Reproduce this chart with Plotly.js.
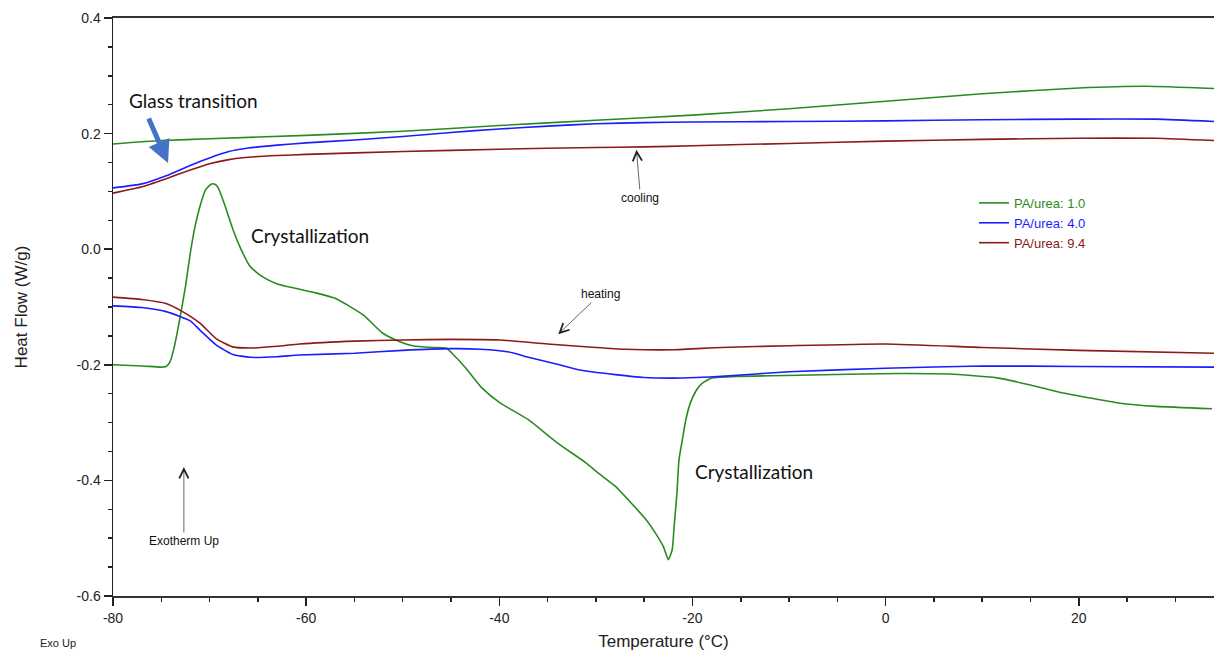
<!DOCTYPE html>
<html>
<head>
<meta charset="utf-8">
<script src="https://cdn.plot.ly/plotly-3.0.1.min.js"></script>
<style>
  html, body { margin: 0; padding: 0; background: #fff; }
  #chart { width: 1214px; height: 651px; }
</style>
</head>
<body>
<div id="chart"></div>
<script>
// DSC heat flow traces (W/g) vs temperature (°C), cooling and heating runs
const seriesNames = ['PA/urea: 1.0', 'PA/urea: 4.0', 'PA/urea: 9.4'];
const seriesColors = ['#2a8a22', '#1c1cff', '#8b1a1a'];

// Cooling runs
const coolT_10 = [-80, -75, -70, -60, -50, -40, -30, -20, -10, 0, 10, 20, 27, 34];
const coolHF_10 = [0.182, 0.188, 0.191, 0.197, 0.204, 0.214, 0.223, 0.232, 0.243, 0.256, 0.269, 0.279, 0.282, 0.278];

const coolT_40 = [-80, -77, -74.5, -72, -70, -68, -66, -63, -60, -55, -50, -45, -40, -35, -30, -25, -20, -10, 0, 10, 20, 28, 34];
const coolHF_40 = [0.106, 0.113, 0.127, 0.145, 0.158, 0.169, 0.175, 0.180, 0.184, 0.189, 0.195, 0.202, 0.208, 0.213, 0.217, 0.219, 0.220, 0.221, 0.222, 0.224, 0.225, 0.225, 0.221];

const coolT_94 = [-80, -77, -74.5, -72, -70, -68, -66, -63, -60, -50, -40, -30, -25, -20, -10, 0, 10, 20, 28, 34];
const coolHF_94 = [0.097, 0.108, 0.122, 0.137, 0.148, 0.155, 0.159, 0.162, 0.164, 0.169, 0.173, 0.176, 0.177, 0.179, 0.183, 0.187, 0.190, 0.192, 0.192, 0.188];

// Heating runs
const heatT_10 = [-80, -77, -75.1, -74.5, -74.1, -73.6, -73.1, -72.5, -72.0, -71.5, -71.0, -70.4, -69.8, -69.4, -69.1, -68.4, -67.6, -66.8, -65.8, -64.5, -63, -61, -58.9, -57, -55.5, -54, -52.1, -50.3, -49, -47, -45.5, -44.9, -43.5, -41.8, -40, -37, -34, -31, -29.7, -28, -26.3, -24.8, -23.8, -23, -22.5, -22.1, -21.9, -21.6, -21.4, -21.0, -20.7, -20.2, -19.6, -19, -18, -15, -9, 1.3, 6.5, 11.7, 15, 17.9, 21, 24.1, 28, 33.8];
const heatHF_10 = [-0.200, -0.202, -0.204, -0.203, -0.195, -0.165, -0.122, -0.065, -0.007, 0.040, 0.074, 0.103, 0.113, 0.112, 0.106, 0.075, 0.035, 0.002, -0.030, -0.048, -0.060, -0.068, -0.076, -0.085, -0.099, -0.115, -0.145, -0.160, -0.167, -0.170, -0.171, -0.180, -0.205, -0.240, -0.265, -0.295, -0.335, -0.370, -0.388, -0.410, -0.440, -0.468, -0.492, -0.515, -0.537, -0.520, -0.480, -0.420, -0.365, -0.325, -0.296, -0.265, -0.244, -0.232, -0.223, -0.220, -0.218, -0.215, -0.216, -0.223, -0.235, -0.247, -0.257, -0.266, -0.272, -0.276];

const heatT_40 = [-80, -77, -74.5, -72, -71, -69.3, -67.6, -65.8, -63, -60.7, -55, -50, -45, -42, -39, -37, -34, -31.7, -28, -25, -22, -19.6, -17, -10, 0, 10, 20, 34];
const heatHF_40 = [-0.098, -0.101, -0.108, -0.124, -0.140, -0.166, -0.182, -0.187, -0.186, -0.183, -0.180, -0.175, -0.172, -0.173, -0.178, -0.187, -0.199, -0.209, -0.217, -0.222, -0.223, -0.222, -0.220, -0.212, -0.206, -0.202, -0.203, -0.204];

const heatT_94 = [-80, -77, -74.5, -72.8, -71, -69.3, -67.6, -65.8, -63, -60.7, -55, -50, -45, -40, -35, -30, -27, -22, -17, -10, 0, 10, 20, 34];
const heatHF_94 = [-0.083, -0.087, -0.094, -0.108, -0.128, -0.155, -0.169, -0.171, -0.168, -0.164, -0.159, -0.157, -0.156, -0.157, -0.164, -0.170, -0.173, -0.174, -0.170, -0.167, -0.164, -0.170, -0.175, -0.180];

// Axis ticks (plain hyphen-minus labels)
const xTickVals = [-80, -60, -40, -20, 0, 20];
const xTickText = ['-80', '-60', '-40', '-20', '0', '20'];
const yTickVals = [-0.6, -0.4, -0.2, 0.0, 0.2, 0.4];
const yTickText = ['-0.6', '-0.4', '-0.2', '0.0', '0.2', '0.4'];

function curve(x, y, i, showLegend) {
  return {
    x: x, y: y, type: 'scatter', mode: 'lines',
    name: '<span style="color:' + seriesColors[i] + '">' + seriesNames[i] + '</span>',
    legendgroup: seriesNames[i], showlegend: showLegend,
    line: { color: seriesColors[i], width: 1.6, shape: 'spline', smoothing: 0.5 },
    hoverinfo: 'skip'
  };
}

const data = [
  curve(coolT_10, coolHF_10, 0, true),
  curve(coolT_40, coolHF_40, 1, true),
  curve(coolT_94, coolHF_94, 2, true),
  curve(heatT_10, heatHF_10, 0, false),
  curve(heatT_40, heatHF_40, 1, false),
  curve(heatT_94, heatHF_94, 2, false)
];

const calloutFont = { family: 'Lato, "Open Sans", sans-serif', size: 19, color: '#111' };
const smallFont = { family: '"Liberation Sans", Arial, sans-serif', size: 12, color: '#111' };

const layout = {
  width: 1214, height: 651,
  margin: { l: 113, r: 0, t: 18, b: 55 },
  paper_bgcolor: '#fff', plot_bgcolor: '#fff',
  font: { family: '"Liberation Sans", Arial, sans-serif', color: '#222' },
  showlegend: true,
  legend: {
    x: 0.782, y: 0.706, xanchor: 'left', yanchor: 'top',
    bgcolor: 'rgba(0,0,0,0)', borderwidth: 0,
    font: { size: 13 },
    tracegroupgap: 0
  },
  xaxis: {
    range: [-80, 34],
    tickvals: xTickVals, ticktext: xTickText,
    ticks: 'outside', ticklen: 8, tickwidth: 1.5, tickcolor: '#222',
    minor: { dtick: 5, ticks: 'outside', ticklen: 4, tickwidth: 1.5, tickcolor: '#222' },
    showgrid: false, zeroline: false,
    showline: true, linecolor: '#333', linewidth: 2, mirror: true,
    tickfont: { size: 14, color: '#222' },
    title: { text: 'Temperature (°C)', font: { size: 17, color: '#222' }, standoff: 12 }
  },
  yaxis: {
    range: [-0.6, 0.4],
    tickvals: yTickVals, ticktext: yTickText,
    ticks: 'outside', ticklen: 8, tickwidth: 1.5, tickcolor: '#222',
    minor: { dtick: 0.05, ticks: 'outside', ticklen: 4, tickwidth: 1.5, tickcolor: '#222' },
    showgrid: false, zeroline: false,
    showline: true, linecolor: '#222', linewidth: 1.5,
    tickfont: { size: 14, color: '#222' },
    title: { text: 'Heat Flow (W/g)', font: { size: 17, color: '#222' }, standoff: 44 }
  },
  annotations: [
    { text: 'Glass transition', xref: 'x', yref: 'y', x: -71.7, y: 0.258,
      showarrow: false, xanchor: 'center', yanchor: 'middle', font: calloutFont },
    { text: '', xref: 'x', yref: 'y', x: -74.3, y: 0.149, ax: -20, ay: -46,
      showarrow: true, arrowhead: 2, arrowsize: 0.9, arrowwidth: 5, arrowcolor: '#4472c4', standoff: 0 },
    { text: 'Crystallization', xref: 'x', yref: 'y', x: -59.6, y: 0.023,
      showarrow: false, font: calloutFont },
    { text: 'Crystallization', xref: 'x', yref: 'y', x: -13.6, y: -0.385,
      showarrow: false, font: calloutFont },
    { text: 'cooling', xref: 'x', yref: 'y', x: -25.8, y: 0.172, ax: 4, ay: 48,
      showarrow: true, arrowhead: 5, arrowsize: 2.6, arrowwidth: 0.7, arrowcolor: '#222', font: smallFont },
    { text: 'heating', xref: 'x', yref: 'y', x: -33.9, y: -0.147, ax: 42, ay: -40,
      showarrow: true, arrowhead: 5, arrowsize: 2.6, arrowwidth: 0.7, arrowcolor: '#222', font: smallFont },
    { text: 'Exotherm Up', xref: 'x', yref: 'y', x: -72.66, y: -0.377, ax: 0, ay: 74,
      showarrow: true, arrowhead: 5, arrowsize: 2.6, arrowwidth: 0.7, arrowcolor: '#222', font: smallFont },
    { text: 'Exo Up', xref: 'paper', yref: 'paper', x: -0.068, y: -0.082,
      xanchor: 'left', yanchor: 'middle', showarrow: false,
      font: { family: '"Liberation Sans", Arial, sans-serif', size: 11, color: '#222' } }
  ]
};

Plotly.newPlot('chart', data, layout, { displayModeBar: false, staticPlot: true });
</script>
</body>
</html>
